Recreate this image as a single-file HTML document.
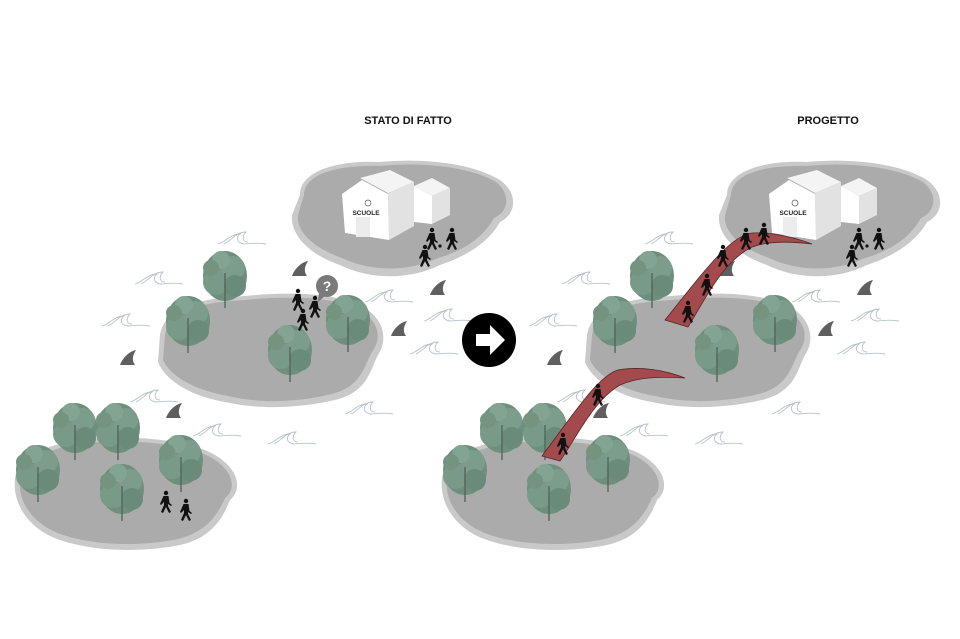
<!DOCTYPE html>
<html><head><meta charset="utf-8"><style>
html,body{margin:0;padding:0;background:#fff;}
svg{display:block;}
text{font-family:"Liberation Sans",Arial,sans-serif;}
</style></head><body>
<svg width="960" height="639" viewBox="0 0 960 639" xmlns="http://www.w3.org/2000/svg">
<defs>
  <g id="tree">
    <ellipse cx="0" cy="-32" rx="22" ry="25" fill="#6e8e7e"/>
    <circle cx="-9" cy="-26" r="13" fill="#7a9a89"/>
    <circle cx="8" cy="-40" r="12" fill="#7d9d8c"/>
    <circle cx="-4" cy="-48" r="9" fill="#84a493"/>
    <circle cx="10" cy="-22" r="11" fill="#6a8a7a"/>
    <circle cx="-14" cy="-40" r="8" fill="#74947f"/>
    <line x1="0" y1="-35" x2="0" y2="0" stroke="#55665c" stroke-width="1.4"/>
  </g>
  <path id="shark" d="M0,0 C3,-8 10,-14 16,-15 C12,-9 12,-4 15,0 Z" fill="#5f5f5f"/>
  <g id="wave" fill="none" stroke="#b9c2c8" stroke-width="0.9">
    <path d="M0,6 C8,4 12,-4 22,-4 C18,-1 18,5 26,6 C32,6 38,4 48,6"/>
    <path d="M6,6 C14,2 18,-6 28,-6 C24,-2 24,4 30,4"/>
  </g>
  <g id="person" fill="#111">
    <circle cx="0" cy="-15" r="2.2"/>
    <path d="M-2.5,-12 L2.5,-12 L3.5,-5 L6,-3 L5,-2 L2,-4 L2,-2 L5,4 L3,5 L0,-1 L-3,5 L-5,4 L-2,-3 L-2,-6 L-5,-3 L-6,-4 Z"/>
  </g>
  <g id="scene">
    <path d="M300,195 C300,170 340,160 380,162 C420,158 470,162 500,180 C520,195 515,215 500,222 C490,240 470,255 440,265 C410,280 370,280 340,265 C310,255 290,235 292,215 Z" fill="#c9c9c9"/>
    <path d="M304,195 C305,172 342,165 380,166 C420,162 468,166 496,182 C512,195 508,212 494,218 C484,236 466,250 438,258 C408,272 372,272 342,258 C314,248 296,232 298,215 Z" fill="#ababab"/>
    <path d="M160,335 C165,305 205,298 245,296 C285,292 330,292 360,305 C385,318 388,340 378,355 C370,370 368,392 335,400 C300,408 260,410 225,402 C190,396 165,380 158,362 Z" fill="#c9c9c9"/>
    <path d="M165,335 C170,308 207,302 245,300 C285,296 328,296 356,308 C380,320 382,338 372,352 C364,366 362,386 332,394 C298,402 262,404 228,396 C194,390 170,376 163,360 Z" fill="#ababab"/>
    <path d="M15,478 C20,452 60,440 100,438 C140,436 190,440 215,455 C240,470 242,490 230,500 C222,520 210,540 175,546 C140,552 95,552 60,540 C30,530 12,505 15,478 Z" fill="#c9c9c9"/>
    <path d="M20,478 C25,455 62,444 100,442 C140,440 188,444 212,458 C235,472 236,490 225,498 C217,516 205,534 173,540 C140,546 97,546 63,535 C34,525 17,503 20,478 Z" fill="#ababab"/>
    <use href="#wave" x="218" y="238"/>
    <use href="#wave" x="135" y="278"/>
    <use href="#wave" x="102" y="320"/>
    <use href="#wave" x="365" y="296"/>
    <use href="#wave" x="424" y="315"/>
    <use href="#wave" x="410" y="348"/>
    <use href="#wave" x="130" y="396"/>
    <use href="#wave" x="193" y="430"/>
    <use href="#wave" x="268" y="438"/>
    <use href="#wave" x="345" y="408"/>
    <use href="#shark" x="120" y="365"/>
    <use href="#shark" x="166" y="418"/>
    <use href="#shark" x="292" y="276"/>
    <use href="#shark" x="430" y="295"/>
    <use href="#shark" x="391" y="336"/>
    <use href="#tree" x="225" y="308"/>
    <use href="#tree" x="188" y="353"/>
    <use href="#tree" x="348" y="352"/>
    <use href="#tree" x="290" y="382"/>
    <use href="#tree" x="75" y="460"/>
    <use href="#tree" x="118" y="460"/>
    <use href="#tree" x="38" y="502"/>
    <use href="#tree" x="181" y="492"/>
    <use href="#tree" x="122" y="521"/>
    <polygon points="360,178 388,193 414,182 390,170" fill="#f4f4f4"/>
    <polygon points="388,193 414,182 414,226 389,240" fill="#e2e2e2"/>
    <polygon points="342,194 362,180 388,194 389,240 345,233" fill="#fff"/>
    <rect x="356" y="217" width="14" height="20" fill="#ececec"/>
    <polygon points="414,186 432,178 450,188 432,196" fill="#f4f4f4"/>
    <polygon points="414,186 432,196 432,224 414,222" fill="#fff"/>
    <polygon points="432,196 450,188 450,215 432,224" fill="#e2e2e2"/>
    <circle cx="368" cy="203" r="3" fill="none" stroke="#555" stroke-width="0.7"/>
    <text x="366" y="215" font-size="6.5" font-weight="bold" text-anchor="middle" fill="#222">SCUOLE</text>
    <use href="#person" x="432" y="245"/>
    <use href="#person" x="452" y="245"/>
    <use href="#person" x="425" y="262"/>
    <circle cx="440" cy="246" r="1.6" fill="#111"/>
  </g>
</defs>

<text x="408" y="124" font-size="11" font-weight="bold" text-anchor="middle" fill="#111">STATO DI FATTO</text>
<text x="828" y="124" font-size="11" font-weight="bold" text-anchor="middle" fill="#111">PROGETTO</text>

<use href="#scene"/>
<g transform="translate(427,0)"><use href="#scene"/></g>

<use href="#person" x="166" y="508"/>
<use href="#person" x="186" y="516"/>

<use href="#person" x="298" y="306"/>
<use href="#person" x="315" y="313"/>
<use href="#person" x="303" y="326"/>
<circle cx="327" cy="286" r="11" fill="#7a7a7a"/>
<polygon points="319,292 318,302 325,296" fill="#7a7a7a"/>
<text x="327" y="291" font-size="14" font-weight="bold" text-anchor="middle" fill="#fff">?</text>

<circle cx="489" cy="340" r="27" fill="#000"/>
<polygon points="476,334 490,334 490,325 505,340 490,355 490,346 476,346" fill="#fff"/>

<path d="M665,320 L688,327 C705,300 722,262 752,247 C770,240 795,242 812,244 C790,236 770,232 752,233 C730,236 705,270 665,320 Z" fill="#a24a4c" stroke="#5a2628" stroke-width="0.8"/>
<path d="M542,456 L560,461 C578,435 594,400 620,385 C640,376 665,377 685,378 C665,370 640,366 618,370 C598,376 575,412 542,456 Z" fill="#a24a4c" stroke="#5a2628" stroke-width="0.8"/>
<use href="#person" x="688" y="318"/>
<use href="#person" x="707" y="291"/>
<use href="#person" x="723" y="262"/>
<use href="#person" x="746" y="245"/>
<use href="#person" x="764" y="240"/>
<use href="#person" x="598" y="401"/>
<use href="#person" x="563" y="450"/>
</svg>
</body></html>
